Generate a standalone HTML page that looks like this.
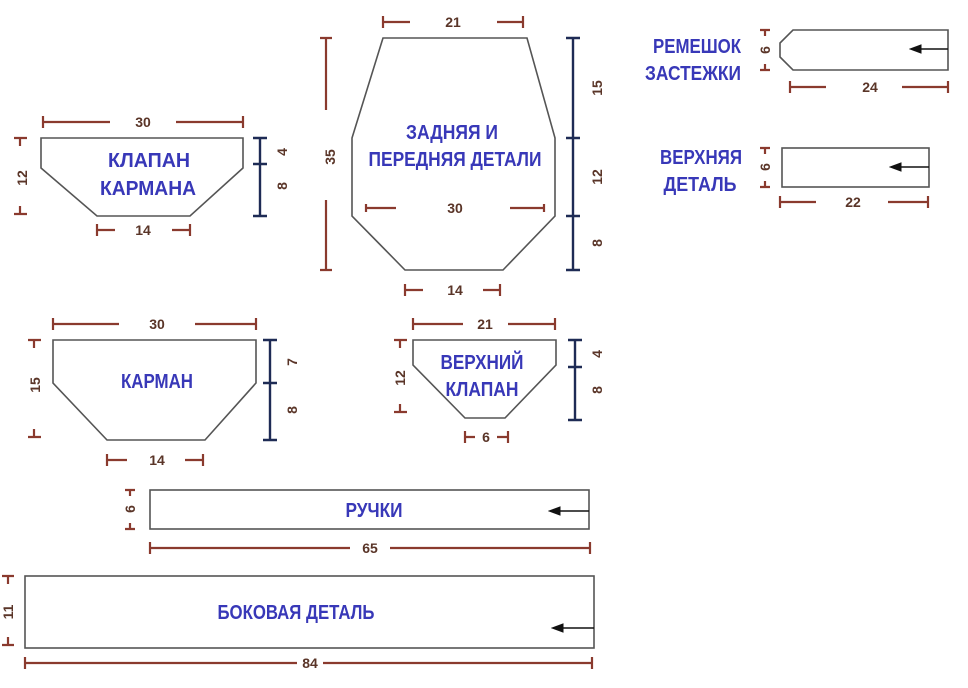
<!DOCTYPE html>
<html><head><meta charset="utf-8"><style>
html,body{margin:0;padding:0;background:#fff;}
svg{display:block;}
.s{fill:#fff;stroke:#555;stroke-width:1.6;}
.d{stroke:#8a3a2e;stroke-width:2.2;fill:none;}
.n{stroke:#1e2b55;stroke-width:2.4;fill:none;}
.t{font-family:"Liberation Sans",sans-serif;font-weight:bold;font-size:14px;fill:#5a3528;text-anchor:middle;}
.l{font-family:"Liberation Sans",sans-serif;font-weight:bold;font-size:20px;fill:#3838b8;text-anchor:middle;}
.a{stroke:#111;stroke-width:1.6;}
</style></head><body>
<svg width="968" height="688" viewBox="0 0 968 688" xmlns="http://www.w3.org/2000/svg">
<rect width="968" height="688" fill="#fff"/>
<defs><marker id="ar" markerWidth="8" markerHeight="6" refX="1" refY="3" orient="auto"><path d="M0,3L8,0L8,6Z" fill="#111" transform="rotate(180 4 3)"/></marker></defs>

<!-- Klapan karmana -->
<polygon class="s" points="41,138 243,138 243,168 190,216 97,216 41,168"/>
<path class="d" d="M43,116v12M43,122h67M176,122h67M243,116v12"/>
<text class="t" x="143" y="127">30</text>
<path class="d" d="M14,138h13M20,138v8M14,214h13M20,214v-8"/>
<text class="t" transform="translate(27,178) rotate(-90)">12</text>
<path class="n" d="M260,138v78M253,138h14M253,164h14M253,216h14"/>
<text class="t" transform="translate(287,152) rotate(-90)">4</text>
<text class="t" transform="translate(287,186) rotate(-90)">8</text>
<path class="d" d="M97,224v12M97,230h18M172,230h18M190,224v12"/>
<text class="t" x="143" y="235">14</text>
<text class="l" x="149" y="167" textLength="82" lengthAdjust="spacingAndGlyphs">КЛАПАН</text>
<text class="l" x="148" y="195" textLength="96" lengthAdjust="spacingAndGlyphs">КАРМАНА</text>

<!-- Back/front -->
<polygon class="s" points="383,38 527,38 555,138 555,216 503,270 405,270 352,216 352,138"/>
<path class="d" d="M383,16v12M383,22h27M497,22h26M523,16v12"/>
<text class="t" x="453" y="27">21</text>
<path class="d" d="M320,38h12M326,38v72M326,200v70M320,270h12"/>
<text class="t" transform="translate(335,157) rotate(-90)">35</text>
<path class="n" d="M573,38v232M566,38h14M566,138h14M566,216h14M566,270h14"/>
<text class="t" transform="translate(602,88) rotate(-90)">15</text>
<text class="t" transform="translate(602,177) rotate(-90)">12</text>
<text class="t" transform="translate(602,243) rotate(-90)">8</text>
<path class="d" d="M366,208h30M510,208h34M366,204v8M544,204v8"/>
<text class="t" x="455" y="213">30</text>
<path class="d" d="M405,284v12M405,290h18M483,290h17M500,284v12"/>
<text class="t" x="455" y="295">14</text>
<text class="l" x="452" y="139" textLength="92" lengthAdjust="spacingAndGlyphs">ЗАДНЯЯ И</text>
<text class="l" x="455" y="166" textLength="173" lengthAdjust="spacingAndGlyphs">ПЕРЕДНЯЯ ДЕТАЛИ</text>

<!-- Karman -->
<polygon class="s" points="53,340 256,340 256,383 205,440 107,440 53,383"/>
<path class="d" d="M53,318v12M53,324h66M195,324h61M256,318v12"/>
<text class="t" x="157" y="329">30</text>
<path class="d" d="M28,340h13M34,340v8M28,437h13M34,437v-8"/>
<text class="t" transform="translate(40,385) rotate(-90)">15</text>
<path class="n" d="M270,340v100M263,340h14M263,383h14M263,440h14"/>
<text class="t" transform="translate(297,362) rotate(-90)">7</text>
<text class="t" transform="translate(297,410) rotate(-90)">8</text>
<path class="d" d="M107,454v12M107,460h20M185,460h18M203,454v12"/>
<text class="t" x="157" y="465">14</text>
<text class="l" x="157" y="388" textLength="72" lengthAdjust="spacingAndGlyphs">КАРМАН</text>

<!-- Verkhniy klapan -->
<polygon class="s" points="413,340 556,340 556,365 505,418 465,418 413,365"/>
<path class="d" d="M413,318v12M413,324h50M508,324h47M555,318v12"/>
<text class="t" x="485" y="329">21</text>
<path class="d" d="M394,340h13M400,340v8M394,412h13M400,412v-8"/>
<text class="t" transform="translate(405,378) rotate(-90)">12</text>
<path class="n" d="M575,340v80M568,340h14M568,367h14M568,420h14"/>
<text class="t" transform="translate(602,354) rotate(-90)">4</text>
<text class="t" transform="translate(602,390) rotate(-90)">8</text>
<path class="d" d="M465,431v12M465,437h10M497,437h11M508,431v12"/>
<text class="t" x="486" y="442">6</text>
<text class="l" x="482" y="369" textLength="83" lengthAdjust="spacingAndGlyphs">ВЕРХНИЙ</text>
<text class="l" x="482" y="396" textLength="73" lengthAdjust="spacingAndGlyphs">КЛАПАН</text>

<!-- Remeshok -->
<polygon class="s" points="793,30 948,30 948,70 793,70 780,57 780,43"/>
<path class="a" d="M948,49h-28" marker-end="url(#ar)"/>
<path class="d" d="M760,30h10M765,30v6M760,70h10M765,70v-6"/>
<text class="t" transform="translate(770,50) rotate(-90)">6</text>
<path class="d" d="M790,81v12M790,87h36M902,87h46M948,81v12"/>
<text class="t" x="870" y="92">24</text>
<text class="l" x="697" y="53" textLength="88" lengthAdjust="spacingAndGlyphs">РЕМЕШОК</text>
<text class="l" x="693" y="80" textLength="96" lengthAdjust="spacingAndGlyphs">ЗАСТЕЖКИ</text>

<!-- Verkhnyaya detal -->
<rect class="s" x="782" y="148" width="147" height="39"/>
<path class="a" d="M929,167h-29" marker-end="url(#ar)"/>
<path class="d" d="M760,148h10M765,148v6M760,187h10M765,187v-6"/>
<text class="t" transform="translate(770,167) rotate(-90)">6</text>
<path class="d" d="M780,196v12M780,202h36M888,202h40M928,196v12"/>
<text class="t" x="853" y="207">22</text>
<text class="l" x="701" y="164" textLength="82" lengthAdjust="spacingAndGlyphs">ВЕРХНЯЯ</text>
<text class="l" x="700" y="191" textLength="73" lengthAdjust="spacingAndGlyphs">ДЕТАЛЬ</text>

<!-- Ruchki -->
<rect class="s" x="150" y="490" width="439" height="39"/>
<path class="a" d="M589,511h-30" marker-end="url(#ar)"/>
<path class="d" d="M125,490h10M130,490v6M125,529h10M130,529v-6"/>
<text class="t" transform="translate(135,509) rotate(-90)">6</text>
<path class="d" d="M150,542v12M150,548h200M390,548h200M590,542v12"/>
<text class="t" x="370" y="553">65</text>
<text class="l" x="374" y="517" textLength="57" lengthAdjust="spacingAndGlyphs">РУЧКИ</text>

<!-- Bokovaya -->
<rect class="s" x="25" y="576" width="569" height="72"/>
<path class="a" d="M594,628h-32" marker-end="url(#ar)"/>
<path class="d" d="M2,576h12M8,576v8M2,645h12M8,645v-8"/>
<text class="t" transform="translate(13,612) rotate(-90)">11</text>
<path class="d" d="M25,657v12M25,663h272M323,663h269M592,657v12"/>
<text class="t" x="310" y="668">84</text>
<text class="l" x="296" y="619" textLength="157" lengthAdjust="spacingAndGlyphs">БОКОВАЯ ДЕТАЛЬ</text>
</svg>
</body></html>
